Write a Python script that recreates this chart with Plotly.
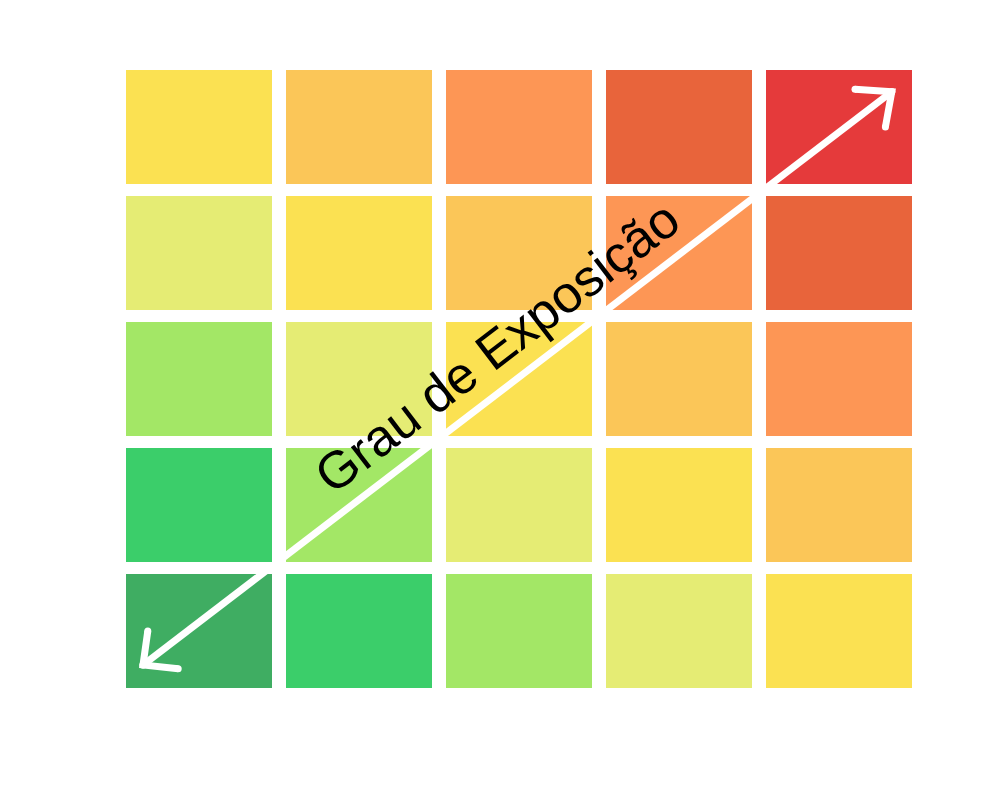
import plotly.graph_objects as go

# risk level per cell, rows listed bottom -> top, columns left -> right
cols = [0, 1, 2, 3, 4]
rows = [0, 1, 2, 3, 4]
levels = [
    [0, 1, 2, 3, 4],
    [1, 2, 3, 4, 5],
    [2, 3, 4, 5, 6],
    [3, 4, 5, 6, 7],
    [4, 5, 6, 7, 8],
]
level_colors = ["#3FAD62", "#3BCE6A", "#A3E766", "#E5EC74", "#FBE152",
                "#FBC658", "#FD9655", "#E8643B", "#E53A3B"]
label = "Grau de Exposição"

n = len(level_colors) - 1
colorscale = [[i / n, c] for i, c in enumerate(level_colors)]

fig = go.Figure()
fig.add_trace(go.Heatmap(
    x=cols, y=rows, z=levels,
    colorscale=colorscale, zmin=0, zmax=n,
    xgap=14, ygap=12, showscale=False, hoverinfo="skip"
))

# diagonal double arrow (white, open chevron heads, round caps via markers)
lo = (-0.35, -0.27)
hi = (4.33, 4.28)
arrow_w = 7

def white_line(xs, ys):
    return go.Scatter(x=xs, y=ys, mode="lines+markers",
                      line=dict(color="white", width=arrow_w),
                      marker=dict(color="white", size=arrow_w),
                      hoverinfo="skip")

fig.add_trace(white_line([lo[0], hi[0]], [lo[1], hi[1]]))
fig.add_trace(white_line([-0.32, lo[0], -0.13], [0.0, lo[1], -0.30]))
fig.add_trace(white_line([4.10, hi[0], 4.29], [4.30, hi[1], 4.0]))

fig.add_annotation(
    x=1.862, y=2.254, xref="x", yref="y",
    text=label, showarrow=False, textangle=-37.5,
    font=dict(family="Arial, Liberation Sans", size=52, color="black")
)

fig.update_xaxes(visible=False, range=[-0.5, 4.5], fixedrange=True)
fig.update_yaxes(visible=False, range=[-0.5, 4.5], fixedrange=True)
fig.update_layout(
    width=1004, height=798,
    margin=dict(l=111, r=93, t=56, b=112),
    plot_bgcolor="white", paper_bgcolor="white",
    showlegend=False
)

fig.write_html("out.html")
